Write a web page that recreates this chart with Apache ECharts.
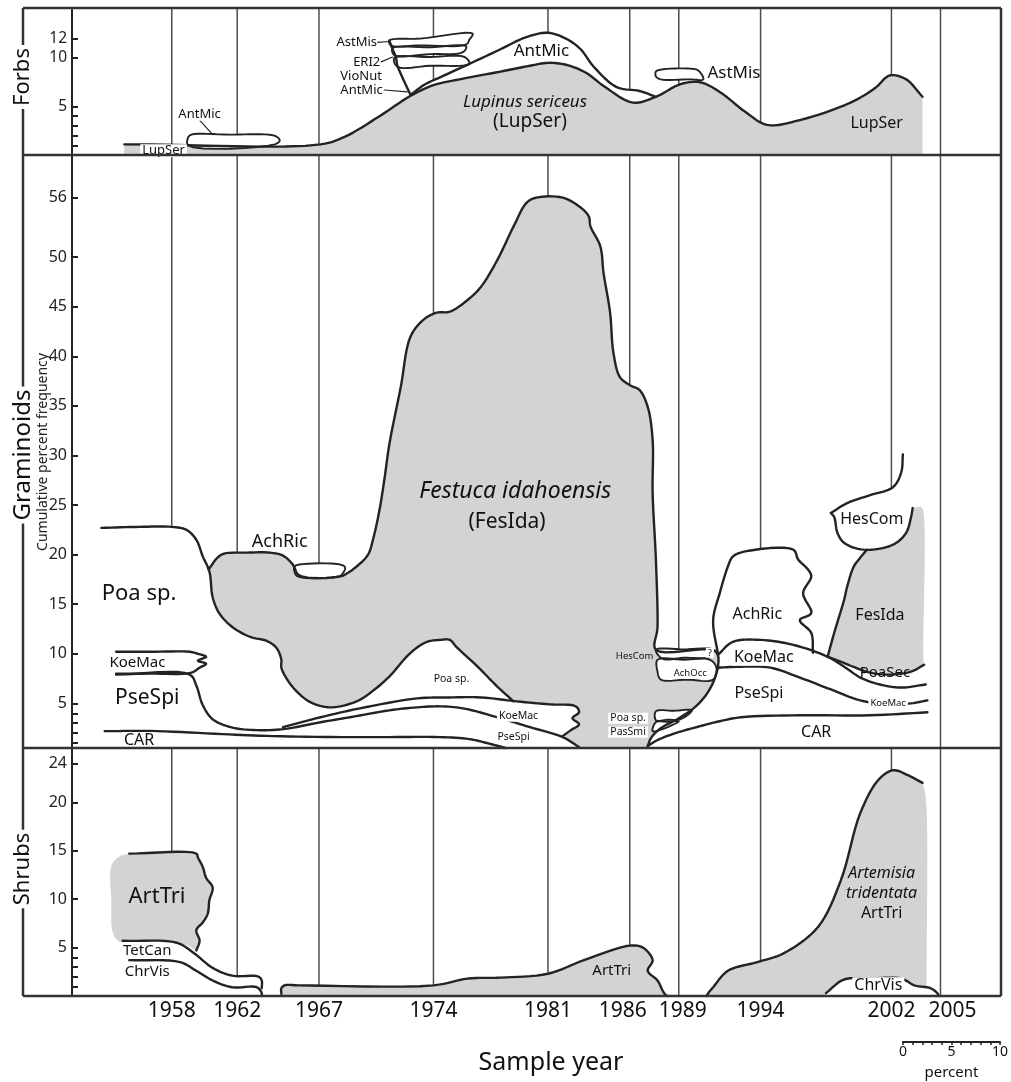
<!DOCTYPE html>
<html><head><meta charset="utf-8">
<script src="https://cdn.jsdelivr.net/npm/echarts@6/dist/echarts.min.js"></script>
<style>html,body{margin:0;padding:0;background:#fff}#c{width:1011px;height:1082px}</style>
</head><body><div id="c"></div>
<script>
// ---------------- data ----------------
const sampleYears = [1958, 1962, 1967, 1974, 1981, 1986, 1989, 1994, 2002, 2005];
const forbsTickValues = [1, 2, 3, 4, 5, 10, 12];
const forbsLabelValues = [5, 10, 12];
const gramTickValues = [1, 2, 3, 4, 5, 10, 15, 20, 25, 30, 35, 40, 45, 50, 56];
const gramLabelValues = [5, 10, 15, 20, 25, 30, 35, 40, 45, 50, 56];
const shrubTickValues = [1, 2, 3, 4, 5, 10, 15, 20, 24];
const shrubLabelValues = [5, 10, 15, 20, 24];
const scaleTickValues = [0, 1, 2, 3, 4, 5, 6, 7, 8, 9, 10];
const scaleLabelValues = [0, 5, 10];

// Forbs outlines [year, cumulative %]
const forbsLupSer = [[1955.1,1.1],[1967.1,1.1],[1968.6,1.9],[1970.7,4.0],[1972.6,6.1],[1974.0,7.2],[1975.6,7.8],[1978.1,8.6],[1979.9,9.2],[1981.0,9.5],[1982.1,9.3],[1983.3,8.5],[1984.5,7.0],[1986.2,5.4],[1987.6,6.0],[1989.1,7.3],[1990.3,7.5],[1991.5,6.5],[1993.1,4.4],[1994.4,3.1],[1996.4,3.6],[1999.5,5.4],[2001.0,6.9],[2001.9,8.2],[2002.9,7.8],[2003.9,6.0]];
const forbsAntMic = [[1972.6,6.2],[1973.5,7.3],[1974.4,8.0],[1976.2,9.4],[1978.1,10.9],[1979.6,12.1],[1981.0,12.6],[1982.2,11.9],[1983.0,10.9],[1983.8,9.1],[1985.2,7.0],[1986.6,6.6],[1987.6,6.0]];
const forbsAntMicSmall = [[1959.0,1.0],[1959.0,1.8],[1959.2,2.1],[1961.5,2.1],[1963.9,2.1],[1964.4,1.9],[1964.6,1.5],[1964.3,1.1]];
const forbsAstMis74 = [[1971.3,11.8],[1973.2,12.0],[1976.4,12.5],[1976.2,11.9],[1976.0,11.4],[1973.2,11.3],[1971.4,11.3]];
const forbsERI2 = [[1971.5,11.0],[1973.8,11.1],[1976.0,11.2],[1975.8,10.6],[1973.8,10.4],[1971.6,10.3]];
const forbsVioNut = [[1971.6,10.0],[1973.8,10.1],[1975.9,10.1],[1976.2,9.4],[1973.8,9.2],[1971.8,9.1]];
const forbsBandEdge = [[1971.3,11.8],[1971.5,10.9],[1971.7,10.1],[1971.8,9.2],[1972.1,8.0],[1972.6,6.2]];
const forbsAstMis89 = [[1987.6,8.6],[1987.9,8.8],[1989.7,8.9],[1990.2,8.7],[1990.5,7.8],[1989.7,7.8],[1987.9,7.8],[1987.6,8.1]];
const forbsLeaders = [[[1959.7,3.6],[1960.5,2.1]],[[1970.6,11.6],[1971.3,11.7]],[[1970.8,9.6],[1971.5,10.1]],[[1971.0,6.7],[1972.4,6.5]]];

// Graminoids outlines
const gramFestucaMain = [[1960.25,18.5],[1960.8,19.7],[1961.2,20.1],[1962.6,20.2],[1964.0,20.2],[1964.8,19.9],[1965.4,19.0],[1965.8,17.9],[1968.3,17.8],[1968.7,18.1],[1969.3,18.8],[1970.0,20.0],[1970.3,21.5],[1970.7,24.5],[1971.0,27.6],[1971.3,31.1],[1972.0,36.9],[1972.6,42.0],[1973.4,43.7],[1974.2,44.4],[1975.0,44.5],[1976.1,45.7],[1976.9,47.0],[1977.9,49.7],[1978.9,53.1],[1979.7,55.5],[1980.3,56.0],[1981.9,56.0],[1983.0,55.0],[1983.5,54.1],[1983.6,53.1],[1984.2,51.1],[1984.4,48.4],[1984.8,44.4],[1985.0,40.4],[1985.4,37.9],[1986.0,37.1],[1986.6,36.6],[1987.1,34.9],[1987.4,31.6],[1987.4,26.2],[1987.6,19.5],[1987.7,12.7],[1987.6,10.4],[1991.1,10.4],[1991.4,9.8],[1991.4,8.6]];
const gramFesTail = [[1991.4,8.6],[1991.1,7.1],[1990.6,5.7],[1989.9,4.5],[1988.9,3.4],[1987.9,2.5],[1987.3,1.5],[1987.1,0.7]];
const gramPoa = [[1953.7,22.7],[1956.0,22.8],[1958.0,22.8],[1958.9,22.5],[1959.5,21.5],[1959.9,19.8],[1960.3,18.3],[1960.5,15.7],[1960.9,14.1],[1961.7,12.7],[1962.8,11.7],[1963.8,11.3],[1964.4,10.6],[1964.7,9.4],[1964.7,8.6],[1965.1,7.3],[1965.7,6.1],[1966.5,5.1],[1967.7,4.6],[1969.3,5.2],[1970.4,6.4],[1971.3,7.7],[1972.6,10.1],[1973.6,11.2],[1974.4,11.4],[1975.0,11.4],[1975.4,10.7],[1976.7,8.7],[1977.9,6.7],[1978.9,5.2]];
const gramKoeMacL = [[1954.6,10.2],[1956.7,10.2],[1959.1,10.2],[1959.6,10.0],[1960.1,9.7],[1959.6,9.3],[1960.1,9.0],[1959.7,8.6],[1959.2,8.1],[1956.7,8.0],[1954.6,8.0]];
const gramPseSpi = [[1954.6,7.9],[1959.1,7.9],[1959.5,6.8],[1959.9,4.8],[1960.5,3.4],[1961.6,2.6],[1963.2,2.3],[1964.8,2.4],[1967.1,3.1],[1968.9,3.6],[1971.3,4.3],[1973.0,4.6],[1974.4,4.7],[1975.8,4.5],[1978.1,3.5],[1979.9,2.6],[1981.9,1.6],[1982.9,0.6]];
const gramKoeMacWedge = [[1964.8,2.6],[1967.1,3.6],[1969.5,4.5],[1973.0,5.5],[1975.0,5.6],[1976.9,5.6],[1979.1,5.2],[1981.1,4.9],[1982.7,4.7],[1982.9,4.1],[1982.5,3.5],[1982.9,2.9],[1982.4,2.3],[1981.9,1.7]];
const gramCAR = [[1953.9,2.2],[1957.1,2.2],[1961.1,1.9],[1964.2,1.7],[1968.3,1.6],[1971.3,1.6],[1974.4,1.6],[1976.2,1.4],[1977.5,0.9],[1978.4,0.5]];
const gramAchRicPill = [[1965.5,18.8],[1965.8,19.0],[1968.3,19.0],[1968.6,18.7],[1968.4,18.0],[1968.2,17.8],[1965.7,17.8],[1965.5,18.3]];
const gramHesCom89 = [[1987.6,10.4],[1989.3,10.45],[1991.1,10.4],[1990.9,9.7],[1989.3,9.6],[1988.0,9.5]];
const gramAchOcc = [[1987.7,9.4],[1989.3,9.4],[1990.9,9.4],[1991.3,8.6],[1991.1,7.4],[1989.5,7.4],[1987.9,7.4],[1987.7,8.2]];
const gramPoaSp89 = [[1987.6,4.2],[1988.7,4.25],[1989.8,4.3],[1989.1,3.4],[1988.3,3.35],[1987.6,3.3]];
const gramPasSmi89 = [[1987.6,3.1],[1988.3,3.15],[1989.0,3.2],[1988.0,2.4],[1987.4,2.2]];
const gramHesComTop = [[1998.3,24.2],[1999.3,25.2],[2000.7,26.0],[2002.1,26.8],[2002.6,28.3],[2002.7,30.1]];
const gramHesComBot = [[1998.3,24.2],[1998.5,23.8],[1998.7,22.2],[1999.1,21.2],[2000.3,20.5],[2002.1,21.0],[2002.9,22.2],[2003.2,23.8],[2003.3,24.7]];
const gramFesIdaLeft = [[1998.1,9.7],[1998.5,12.1],[1999.1,15.4],[1999.3,16.8],[1999.7,18.8],[2000.1,19.7],[2000.5,20.5]];
const gramFesIdaEdge = [[2003.3,24.7],[2003.8,24.8],[2003.95,24.4],[2003.95,9.6],[2004.0,8.9]];
const gramPoaSecTop = [[1998.1,9.7],[1998.9,9.2],[1999.8,8.6],[2000.7,8.1],[2001.9,7.9],[2003.2,8.2],[2004.0,8.9]];
const gramAchRic = [[1991.4,9.9],[1991.1,13.4],[1991.5,16.1],[1992.0,18.8],[1992.3,19.8],[1993.0,20.3],[1996.0,20.5],[1996.3,19.5],[1996.9,18.5],[1997.1,17.8],[1996.6,16.1],[1997.1,14.1],[1996.4,13.4],[1997.1,12.1],[1997.2,10.1]];
const gramKoeMacTopR = [[1991.4,9.9],[1992.3,11.2],[1994.0,11.4],[1996.0,10.9],[1998.1,9.7],[1999.2,8.6],[2000.1,7.6],[2001.3,6.9],[2002.6,6.6],[2004.1,6.9]];
const gramPseSpiTopR = [[1991.4,8.6],[1992.8,8.7],[1994.6,8.6],[1996.4,7.6],[1998.3,6.4],[2000.1,5.3],[2001.9,4.9],[2003.2,5.0],[2004.2,5.3]];
const gramCARR = [[1987.1,0.7],[1987.7,1.3],[1988.8,2.0],[1990.3,2.7],[1991.5,3.2],[1992.8,3.6],[1996.4,3.8],[2000.7,3.8],[2004.2,4.1]];

// Shrubs outlines
const shrubArtTriBlob = [[1954.7,14.3],[1955.4,14.7],[1959.5,14.7],[1959.6,14.3],[1959.9,13.3],[1960.1,12.2],[1960.5,11.2],[1960.3,9.9],[1960.2,8.5],[1959.9,7.6],[1959.5,6.8],[1959.7,5.7],[1959.5,4.7],[1959.1,5.1],[1958.3,5.5],[1954.8,5.6],[1954.4,6.5],[1954.3,9.9],[1954.3,13.4]];
const shrubTetCan = [[1955.0,5.7],[1958.3,5.5],[1959.3,4.5],[1960.5,2.9],[1961.7,2.1],[1963.3,2.0],[1963.5,1.6],[1963.5,0.8]];
const shrubChrVis = [[1955.4,3.7],[1958.5,3.5],[1959.5,2.6],[1960.5,1.6],[1961.7,0.9],[1963.2,0.9],[1963.5,0.3],[1963.5,0]];
const shrubArtTriMid = [[1964.7,0.2],[1964.7,0.8],[1964.9,1.1],[1965.8,1.1],[1974.0,1.1],[1976.1,1.8],[1978.1,1.9],[1981.0,2.3],[1983.2,3.7],[1986.0,5.2],[1986.8,5.0],[1987.4,3.7],[1987.1,2.6],[1987.7,1.6],[1988.1,0.3],[1988.3,0]];
const shrubArtTriBig = [[1990.7,0],[1990.8,0.3],[1991.1,0.9],[1992.0,2.6],[1993.8,3.5],[1995.4,4.4],[1997.5,7.1],[1998.9,11.9],[2000.1,18.9],[2001.2,22.3],[2002.1,23.3],[2003.0,22.8],[2003.9,22.0]];
const shrubArtTriEdge = [[2003.9,22.0],[2004.1,20.5],[2004.15,0]];
const shrubChrVisR = [[1998.0,0.3],[1999.1,1.7],[2000.7,1.8],[2002.6,1.8],[2003.4,1.1],[2004.4,0.8],[2004.8,0.3],[2004.9,0]];

// Labels: [text, year, value, style]
const forbsLabels = [
  ['AntMic',1959.7,4.2,'s13bg'],['LupSer',1957.5,0.45,'s13bg'],
  ['AstMis',1970.55,11.6,'s13r'],['ERI2',1970.75,9.6,'s13r'],['VioNut',1970.85,8.1,'s13r'],['AntMic',1970.9,6.7,'s13r'],
  ['AntMic',1980.6,10.7,'s17'],['Lupinus sericeus',1979.6,5.4,'s17i'],['(LupSer)',1979.9,3.4,'s19'],
  ['AstMis',1990.75,8.4,'s17l'],['LupSer',2001.1,3.3,'s16']
];
const gramLabels = [
  ['Poa sp.',1956.0,16.1,'s22'],['KoeMac',1955.9,9.1,'s15bg'],['PseSpi',1956.5,5.5,'s21'],['CAR',1956.0,1.3,'s16bg'],
  ['AchRic',1964.6,21.3,'s18bg'],['Festuca idahoensis',1979.0,26.4,'s23i'],['(FesIda)',1978.5,23.3,'s21'],
  ['Poa sp.',1975.1,7.5,'s10'],['KoeMac',1979.2,3.7,'s10bg'],['PseSpi',1978.9,1.6,'s10bg'],
  ['Poa sp.',1985.9,3.5,'s10bg'],['PasSmi',1985.9,2.1,'s10bg'],['HesCom',1986.3,9.7,'s9'],
  ['AchOcc',1989.7,8.0,'s9bg'],['?',1990.9,10.1,'s9bg'],
  ['AchRic',1993.8,14.0,'s16'],['KoeMac',1994.2,9.6,'s16bg'],['PseSpi',1993.9,6.05,'s16'],['CAR',1997.4,2.1,'s16'],
  ['HesCom',2000.8,23.5,'s16bg'],['FesIda',2001.3,13.9,'s16'],['PoaSec',2001.6,8.1,'s15'],['KoeMac',2001.8,5.05,'s9bg']
];
const shrubLabels = [
  ['ArtTri',1957.1,10.2,'s22'],['TetCan',1956.5,4.7,'s15bg'],['ChrVis',1956.5,2.5,'s15bg'],
  ['ArtTri',1984.9,2.6,'s15'],['Artemisia',2001.4,12.7,'s16i'],['tridentata',2001.4,10.6,'s16i'],
  ['ArtTri',2001.4,8.5,'s16'],['ChrVis',2001.2,1.1,'s16bg']
];

// ---------------- styles ----------------
const FONT = '"Noto Sans", "Open Sans", sans-serif';
const INK = '#232323';
const GREY = '#d3d3d3';
const WHITE = '#ffffff';
const LW = 2.4;
const LS = {
  s9:{size:9.5}, s9bg:{size:9.5,bg:1}, s10:{size:10.5}, s10bg:{size:10.5,bg:1},
  s13bg:{size:13,bg:1}, s13r:{size:13,align:'right'}, s15:{size:15}, s15bg:{size:15,bg:1},
  s16:{size:16}, s16bg:{size:16,bg:1}, s16i:{size:16,italic:1}, s17:{size:17}, s17i:{size:17,italic:1}, s17l:{size:17,align:'left'},
  s18bg:{size:18,bg:1}, s19:{size:19}, s20:{size:20}, s21:{size:21},
  s23i:{size:23,italic:1}, s22:{size:22}
};

// shapes in painting order
const rev = a => a.slice().reverse();
const forbsShapes = [
  {fill:WHITE, parts:[forbsAntMic], base:true, lines:[forbsAntMic]},
  {fill:GREY, parts:[forbsLupSer], base:true, lines:[forbsLupSer]},
  {fill:WHITE, parts:[forbsAntMicSmall], loop:true},
  {fill:WHITE, parts:[forbsAstMis74], loop:true},
  {fill:WHITE, parts:[forbsERI2], loop:true},
  {fill:WHITE, parts:[forbsVioNut], loop:true},
  {fill:null, lines:[forbsBandEdge]},
  {fill:WHITE, parts:[forbsAstMis89], loop:true}
].concat(forbsLeaders.map(l => ({fill:null, lines:[l], thin:true})));

const gramShapes = [
  {fill:GREY, parts:[gramFestucaMain, gramFesTail], base:true, lines:[gramFestucaMain, gramFesTail]},
  {fill:WHITE, parts:[gramPoa], base:true, lines:[gramPoa]},
  {fill:WHITE, parts:[gramPseSpi], base:true, lines:[gramPseSpi]},
  {fill:WHITE, parts:[gramKoeMacWedge, rev(gramPseSpi.slice(7,17))], lines:[gramKoeMacWedge]},
  {fill:WHITE, parts:[gramCAR], base:true, lines:[gramCAR]},
  {fill:WHITE, parts:[gramKoeMacL], lines:[gramKoeMacL]},
  {fill:WHITE, parts:[gramAchRicPill], loop:true},
  {fill:WHITE, parts:[gramHesCom89], loop:true},
  {fill:WHITE, parts:[gramAchOcc], loop:true},
  {fill:WHITE, parts:[gramPoaSp89], loop:true},
  {fill:WHITE, parts:[gramPasSmi89], loop:true},
  {fill:WHITE, parts:[gramHesComTop, rev(gramHesComBot)], lines:[gramHesComTop, gramHesComBot]},
  {fill:GREY, parts:[gramFesIdaLeft, gramHesComBot.slice(5), gramFesIdaEdge, rev(gramPoaSecTop)], lines:[gramFesIdaLeft]},
  {fill:WHITE, parts:[gramAchRic, rev(gramKoeMacTopR.slice(0,4))], lines:[gramAchRic]},
  {fill:WHITE, parts:[gramPoaSecTop, rev(gramKoeMacTopR.slice(4))], lines:[gramPoaSecTop]},
  {fill:WHITE, parts:[gramKoeMacTopR, rev(gramPseSpiTopR)], lines:[gramKoeMacTopR]},
  {fill:WHITE, parts:[gramPseSpiTopR, rev(gramCARR), rev(gramFesTail)], lines:[gramPseSpiTopR]},
  {fill:WHITE, parts:[gramCARR], base:true, lines:[gramCARR]}
];

const shrubShapes = [
  {fill:GREY, parts:[shrubArtTriBlob], loop:true, noLoopStroke:true, lines:[shrubArtTriBlob.slice(1,13)]},
  {fill:WHITE, parts:[shrubTetCan], base:true, lines:[shrubTetCan]},
  {fill:WHITE, parts:[shrubChrVis], base:true, lines:[shrubChrVis]},
  {fill:GREY, parts:[shrubArtTriMid], base:true, lines:[shrubArtTriMid]},
  {fill:GREY, parts:[shrubArtTriBig, shrubArtTriEdge], base:true, lines:[shrubArtTriBig]},
  {fill:WHITE, parts:[shrubChrVisR], base:true, lines:[shrubChrVisR]}
];

// ---------------- geometry helpers ----------------
function dist(a,b){ return Math.hypot(a[0]-b[0], a[1]-b[1]); }
function lerp2(a,b,ta,tb,t){ const w = (t-ta)/(tb-ta); return [a[0]+(b[0]-a[0])*w, a[1]+(b[1]-a[1])*w]; }
function crPoint(p0,p1,p2,p3,t0,t1,t2,t3,t){
  const A1 = lerp2(p0,p1,t0,t1,t), A2 = lerp2(p1,p2,t1,t2,t), A3 = lerp2(p2,p3,t2,t3,t);
  const B1 = lerp2(A1,A2,t0,t2,t), B2 = lerp2(A2,A3,t1,t3,t);
  return lerp2(B1,B2,t1,t2,t);
}
function spline(pts, closed){
  const n = pts.length;
  if (n < 3) return pts.slice();
  const get = i => {
    if (closed) return pts[((i % n) + n) % n];
    if (i < 0) return [2*pts[0][0]-pts[1][0], 2*pts[0][1]-pts[1][1]];
    if (i > n-1) return [2*pts[n-1][0]-pts[n-2][0], 2*pts[n-1][1]-pts[n-2][1]];
    return pts[i];
  };
  const out = [], SUB = 8, segs = closed ? n : n-1;
  for (let i = 0; i < segs; i++) {
    const p0 = get(i-1), p1 = get(i), p2 = get(i+1), p3 = get(i+2);
    const t0 = 0;
    const t1 = t0 + Math.max(Math.sqrt(dist(p0,p1)), 1e-3);
    const t2 = t1 + Math.max(Math.sqrt(dist(p1,p2)), 1e-3);
    const t3 = t2 + Math.max(Math.sqrt(dist(p2,p3)), 1e-3);
    for (let k = 0; k < SUB; k++) out.push(crPoint(p0,p1,p2,p3,t0,t1,t2,t3, t1 + (t2-t1)*k/SUB));
  }
  if (!closed) out.push(pts[n-1].slice());
  return out;
}
const toPx = (api, arr) => arr.map(p => api.coord(p));
function fillPoints(api, s, yMin){
  if (s.loop) return spline(toPx(api, s.parts[0]), true);
  let pts = [];
  s.parts.forEach(part => { pts = pts.concat(spline(toPx(api, part), false)); });
  if (s.base) {
    const b = api.coord([sampleYears[0], yMin])[1];
    pts.push([pts[pts.length-1][0], b], [pts[0][0], b]);
  }
  return pts;
}

function panelSeries(gi, yMin, yMax, shapes, labels){
  const anchor = s => (s.parts ? s.parts[0][0] : s.lines[0][0]);
  return [
    { type:'custom', xAxisIndex:gi, yAxisIndex:gi, z:1, silent:true,
      data: sampleYears.map(y => [y, yMin]),
      renderItem: (p, api) => {
        const yr = sampleYears[p.dataIndex];
        const a = api.coord([yr, yMin]), b = api.coord([yr, yMax]);
        return {type:'line', shape:{x1:a[0], y1:a[1], x2:b[0], y2:b[1]}, style:{stroke:'#4d4d4d', lineWidth:1.5}};
      } },
    { type:'custom', xAxisIndex:gi, yAxisIndex:gi, z:2, silent:true,
      data: shapes.map(anchor),
      renderItem: (p, api) => {
        const s = shapes[p.dataIndex];
        if (!s.fill) return {type:'group', children:[]};
        return {type:'polygon', shape:{points: fillPoints(api, s, yMin)}, style:{fill:s.fill, stroke:'none'}};
      } },
    { type:'custom', xAxisIndex:gi, yAxisIndex:gi, z:3, silent:true,
      data: shapes.map(anchor),
      renderItem: (p, api) => {
        const s = shapes[p.dataIndex];
        const lw = s.thin ? 1.2 : LW;
        const children = [];
        if (s.loop && !s.noLoopStroke) {
          children.push({type:'polygon', shape:{points: spline(toPx(api, s.parts[0]), true)},
            style:{fill:'none', stroke:INK, lineWidth:1.9, lineJoin:'round'}});
        }
        (s.lines || []).forEach(l => children.push({type:'polyline', shape:{points: spline(toPx(api, l), false)},
          style:{fill:'none', stroke:INK, lineWidth:lw, lineJoin:'round', lineCap:'round'}}));
        return {type:'group', children};
      } },
    { type:'custom', xAxisIndex:gi, yAxisIndex:gi, z:4, silent:true,
      data: labels.map(l => [l[1], l[2]]),
      renderItem: (p, api) => {
        const l = labels[p.dataIndex], st = LS[l[3]];
        const c = api.coord([l[1], l[2]]);
        return {type:'text', x:c[0], y:c[1], style:{
          text:l[0], fill:'#111', font:(st.italic ? 'italic ' : '') + st.size + 'px ' + FONT,
          align: st.align || 'center', verticalAlign:'middle',
          backgroundColor: st.bg ? '#fff' : null, padding: st.bg ? [0,2,0,2] : 0 }};
      } }
  ];
}

// ---------------- chart ----------------
const X_MIN = 1951.9, X_MAX = 2008.7;
const Y = [{min:0, max:15.05}, {min:0.5, max:60.3}, {min:0, max:25.6}];
const tickSets = [[forbsTickValues, forbsLabelValues, 15.5], [gramTickValues, gramLabelValues, 16], [shrubTickValues, shrubLabelValues, 16]];

const chart = echarts.init(document.getElementById('c'), null, {renderer:'canvas'});
const xLabelRich = {
  n:{fontSize:21, fontFamily:FONT, color:'#111'},
  l:{fontSize:21, fontFamily:FONT, color:'#111', padding:[0,14,0,0]},
  m:{fontSize:21, fontFamily:FONT, color:'#111', padding:[0,0,0,8]},
  r:{fontSize:21, fontFamily:FONT, color:'#111', padding:[0,0,0,24]}
};
const frame = [[23,8,1001,8],[23,155,1001,155],[23,748,1001,748],[23,996,1001,996],[23,8,23,996],[1001,8,1001,996]];

chart.setOption({
  animation:false,
  backgroundColor:'#fff',
  textStyle:{fontFamily:FONT},
  grid:[
    {left:72, right:10, top:9, height:146},
    {left:72, right:10, top:155, height:593},
    {left:72, right:10, top:748, height:248},
    {left:903, width:98, top:1040, height:2}
  ],
  xAxis:[0,1,2].map(i => ({
    gridIndex:i, type:'value', min:X_MIN, max:X_MAX,
    axisLine:{show:false}, axisTick:{show:false}, splitLine:{show:false},
    axisLabel: i === 2 ? {show:true, customValues:sampleYears, margin:5, fontSize:21, color:'#111',
      formatter: v => v === 1986 ? '{l|1986}' : v === 1989 ? '{m|1989}' : v === 2005 ? '{r|2005}' : '{n|' + v + '}',
      rich:xLabelRich} : {show:false}
  })).concat([{
    gridIndex:3, type:'value', min:0, max:10, position:'bottom',
    axisLine:{show:true, lineStyle:{color:INK, width:2}},
    axisTick:{show:true, customValues:scaleTickValues, length:3, lineStyle:{color:INK, width:1.5}},
    axisLabel:{customValues:scaleLabelValues, fontSize:14, color:'#111', margin:3},
    splitLine:{show:false},
    name:'percent', nameLocation:'middle', nameGap:23, nameTextStyle:{fontSize:15, color:'#111'}
  }]),
  yAxis:[0,1,2].map(i => ({
    gridIndex:i, type:'value', min:Y[i].min, max:Y[i].max,
    axisLine:{show:true, lineStyle:{color:INK, width:2}},
    axisTick:{show:true, inside:true, length:6, customValues:tickSets[i][0], lineStyle:{color:INK, width:2}},
    axisLabel:{customValues:tickSets[i][1], fontSize:tickSets[i][2], color:'#222', margin:5},
    splitLine:{show:false}
  })).concat([{gridIndex:3, type:'value', show:false}]),
  series: [].concat(
    panelSeries(0, Y[0].min, Y[0].max, forbsShapes, forbsLabels),
    panelSeries(1, Y[1].min, Y[1].max, gramShapes, gramLabels),
    panelSeries(2, Y[2].min, Y[2].max, shrubShapes, shrubLabels)
  ),
  graphic: frame.map(([x1,y1,x2,y2]) => ({type:'line', z:10, silent:true, shape:{x1,y1,x2,y2}, style:{stroke:'#333', lineWidth:2.5}}))
    .concat([
      {type:'text', z:11, x:23, y:77, rotation:Math.PI/2, style:{text:'Forbs', font:'22px ' + FONT, fill:'#111', align:'center', verticalAlign:'middle', backgroundColor:'#fff', padding:[0,3,0,3]}},
      {type:'text', z:11, x:23, y:455, rotation:Math.PI/2, style:{text:'Graminoids', font:'24px ' + FONT, fill:'#111', align:'center', verticalAlign:'middle', backgroundColor:'#fff', padding:[0,3,0,3]}},
      {type:'text', z:11, x:43, y:452, rotation:Math.PI/2, style:{text:'Cumulative percent frequency', font:'14px ' + FONT, fill:'#222', align:'center', verticalAlign:'middle'}},
      {type:'text', z:11, x:23, y:869, rotation:Math.PI/2, style:{text:'Shrubs', font:'22px ' + FONT, fill:'#111', align:'center', verticalAlign:'middle', backgroundColor:'#fff', padding:[0,3,0,3]}},
      {type:'text', z:11, x:551, y:1063, style:{text:'Sample year', font:'25px ' + FONT, fill:'#111', align:'center', verticalAlign:'middle'}}
    ])
});
</script>
</body></html>
